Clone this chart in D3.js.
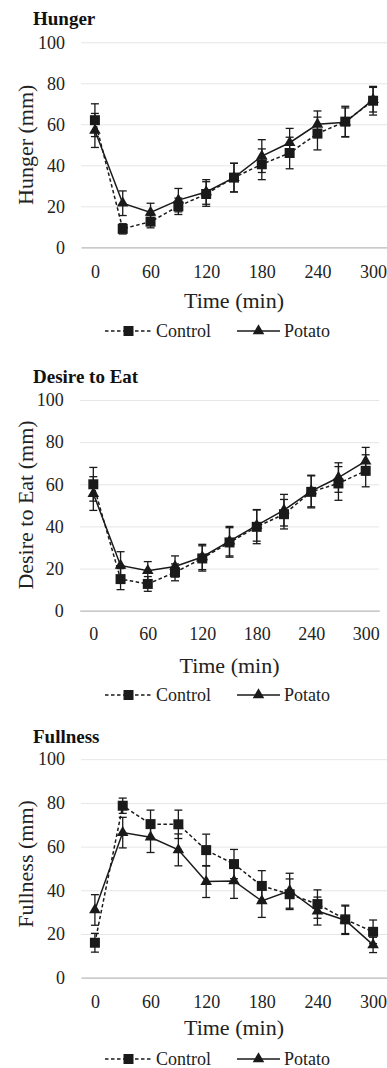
<!DOCTYPE html>
<html>
<head>
<meta charset="utf-8">
<script src="https://cdn.jsdelivr.net/npm/d3@7"></script>
<style>
  body { margin: 0; background: #fff; }
  svg text { font-family: "Liberation Serif", "Times New Roman", Times, serif; }
  .grid line { stroke: #e6e6e6; stroke-width: 1; }
  .grid .domain { display: none; }
  .grid text { font-size: 18px; fill: #222; }
  .xaxis .domain { stroke: #b8b8b8; stroke-width: 1.3; }
  .xaxis text { font-size: 18px; fill: #222; }
  .title { font-size: 19px; font-weight: bold; fill: #111; }
  .axis-title { font-size: 22px; fill: #222; }
  .legend text { font-size: 18px; fill: #222; }
</style>
</head>
<body>
<svg id="chart" width="387" height="1068"></svg>
<script>
const times = [0, 30, 60, 90, 120, 150, 180, 210, 240, 270, 300];
const xTicks = [0, 60, 120, 180, 240, 300];
const yTicks = [0, 20, 40, 60, 80, 100];
const seriesNames = ['Control', 'Potato'];

const hungerControl = [62, 9, 12.5, 20, 26, 34, 40.5, 46, 55.5, 61.3, 71.5];
const hungerControlSE = [8, 2.5, 3, 4, 6, 7, 7.5, 7.7, 8, 7.5, 7];
const hungerPotato = [57, 21.5, 17, 23, 27, 34, 44.5, 51, 60, 61, 72];
const hungerPotatoSE = [8.3, 6, 4.5, 5.7, 6, 7, 8, 7, 6.5, 7, 6];

const desireControl = [60, 15, 12.7, 18.2, 24.8, 32.4, 39.8, 45.8, 56.4, 60.4, 66.4];
const desireControlSE = [8, 5, 3.5, 4, 6, 7, 8, 7, 7.6, 8, 7.6];
const desirePotato = [55.6, 21.5, 19, 21, 25.5, 33, 40.5, 47.7, 56.8, 63.2, 71];
const desirePotatoSE = [8, 6.5, 4.3, 5, 6, 7, 7.5, 7.5, 7.5, 7, 6.5];

const fullControl = [16, 78.7, 70.3, 70.2, 58.4, 52, 42, 38.2, 33.7, 26.7, 21];
const fullControlSE = [4.3, 3.5, 6.4, 6.5, 7.3, 6.7, 7, 7, 6.5, 6.5, 5.4];
const fullPotato = [31, 66.4, 64.3, 58.5, 44, 44.3, 35.1, 39.8, 30.5, 26.3, 15];
const fullPotatoSE = [7, 7, 7, 7.3, 7.3, 8, 7.5, 8, 6.4, 6.5, 3.5];

// panel placement (pixels)
const panels = [
  { title: 'Hunger', yLabel: 'Hunger (mm)', control: hungerControl, controlSE: hungerControlSE,
    potato: hungerPotato, potatoSE: hungerPotatoSE,
    titleY: 25, top: 42.3, bottom: 247.3, left: 81, right: 387,
    tickPad: 18, xTitleY: 308, legendY: 337, yTitleY: 144.8 },
  { title: 'Desire to Eat', yLabel: 'Desire to Eat (mm)', control: desireControl, controlSE: desireControlSE,
    potato: desirePotato, potatoSE: desirePotatoSE,
    titleY: 383.3, top: 400, bottom: 610.7, left: 79.7, right: 379.3,
    tickPad: 16.5, xTitleY: 673.3, legendY: 701, yTitleY: 505 },
  { title: 'Fullness', yLabel: 'Fullness (mm)', control: fullControl, controlSE: fullControlSE,
    potato: fullPotato, potatoSE: fullPotatoSE,
    titleY: 743.3, top: 759.2, bottom: 977.7, left: 81, right: 387,
    tickPad: 18, xTitleY: 1035, legendY: 1065, yTitleY: 864 }
];

const svg = d3.select('#chart');
const ink = '#1a1a1a';
const squareSym = d3.symbol(d3.symbolSquare, 100);
const triSym = d3.symbol(d3.symbolTriangle, 58);

function drawSeries(parent, xScale, yScale, vals, se, dashed, sym) {
  const g = parent.append('g');
  const pts = times.map((t, i) => ({ t, v: vals[i], e: se[i] }));
  const line = d3.line().x(d => xScale(d.t)).y(d => yScale(d.v));
  const capW = 4;

  const eb = g.append('g').attr('stroke', ink).attr('stroke-width', 1.3);
  pts.forEach(d => {
    const x = xScale(d.t), y1 = yScale(d.v + d.e), y2 = yScale(d.v - d.e);
    eb.append('line').attr('x1', x).attr('x2', x).attr('y1', y1).attr('y2', y2);
    eb.append('line').attr('x1', x - capW).attr('x2', x + capW).attr('y1', y1).attr('y2', y1);
    eb.append('line').attr('x1', x - capW).attr('x2', x + capW).attr('y1', y2).attr('y2', y2);
  });

  g.append('path')
    .datum(pts)
    .attr('fill', 'none')
    .attr('stroke', ink)
    .attr('stroke-width', 1.5)
    .attr('stroke-dasharray', dashed ? '3.5,2.5' : null)
    .attr('d', line);

  g.selectAll('path.mark')
    .data(pts)
    .enter().append('path')
    .attr('class', 'mark')
    .attr('d', sym)
    .attr('fill', ink)
    .attr('transform', d => `translate(${xScale(d.t)},${yScale(d.v)})`);
}

panels.forEach(p => {
  const xScale = d3.scaleLinear().domain([-15, 315]).range([p.left, p.right]);
  const yScale = d3.scaleLinear().domain([0, 100]).range([p.bottom, p.top]);
  const g = svg.append('g');

  g.append('text').attr('class', 'title').attr('x', 33).attr('y', p.titleY).text(p.title);

  const yAxis = d3.axisLeft(yScale)
    .tickValues(yTicks)
    .tickSize(-(p.right - p.left))
    .tickPadding(16)
    .tickFormat(d3.format('d'));
  g.append('g')
    .attr('class', 'grid')
    .attr('transform', `translate(${p.left},0)`)
    .call(yAxis)
    .attr('font-family', null)
    .call(s => s.selectAll('.tick').filter(d => d === 0).select('line').remove());

  const xAxis = d3.axisBottom(xScale)
    .tickValues(xTicks)
    .tickSize(0)
    .tickSizeOuter(0)
    .tickPadding(p.tickPad);
  g.append('g')
    .attr('class', 'xaxis')
    .attr('transform', `translate(0,${p.bottom})`)
    .call(xAxis)
    .attr('font-family', null);

  g.append('text')
    .attr('class', 'axis-title')
    .attr('x', (p.left + p.right) / 2)
    .attr('y', p.xTitleY)
    .attr('text-anchor', 'middle')
    .text('Time (min)');

  g.append('text')
    .attr('class', 'axis-title')
    .attr('transform', `translate(25,${p.yTitleY}) rotate(-90)`)
    .attr('text-anchor', 'middle')
    .attr('dominant-baseline', 'central')
    .text(p.yLabel);

  drawSeries(g, xScale, yScale, p.potato, p.potatoSE, false, triSym);
  drawSeries(g, xScale, yScale, p.control, p.controlSE, true, squareSym);

  // legend
  const lg = g.append('g').attr('class', 'legend');
  const ly = p.legendY - 6;
  const items = [
    { name: seriesNames[0], x1: 105, x2: 152, dashed: true, sym: squareSym, tx: 156 },
    { name: seriesNames[1], x1: 237, x2: 280, dashed: false, sym: triSym, tx: 284 }
  ];
  items.forEach(it => {
    lg.append('line')
      .attr('x1', it.x1).attr('x2', it.x2).attr('y1', ly).attr('y2', ly)
      .attr('stroke', ink).attr('stroke-width', 1.5)
      .attr('stroke-dasharray', it.dashed ? '3.5,2.5' : null);
    lg.append('path')
      .attr('d', it.sym)
      .attr('fill', ink)
      .attr('transform', `translate(${(it.x1 + it.x2) / 2},${ly})`);
    lg.append('text').attr('x', it.tx).attr('y', p.legendY).text(it.name);
  });
});
</script>
</body>
</html>
